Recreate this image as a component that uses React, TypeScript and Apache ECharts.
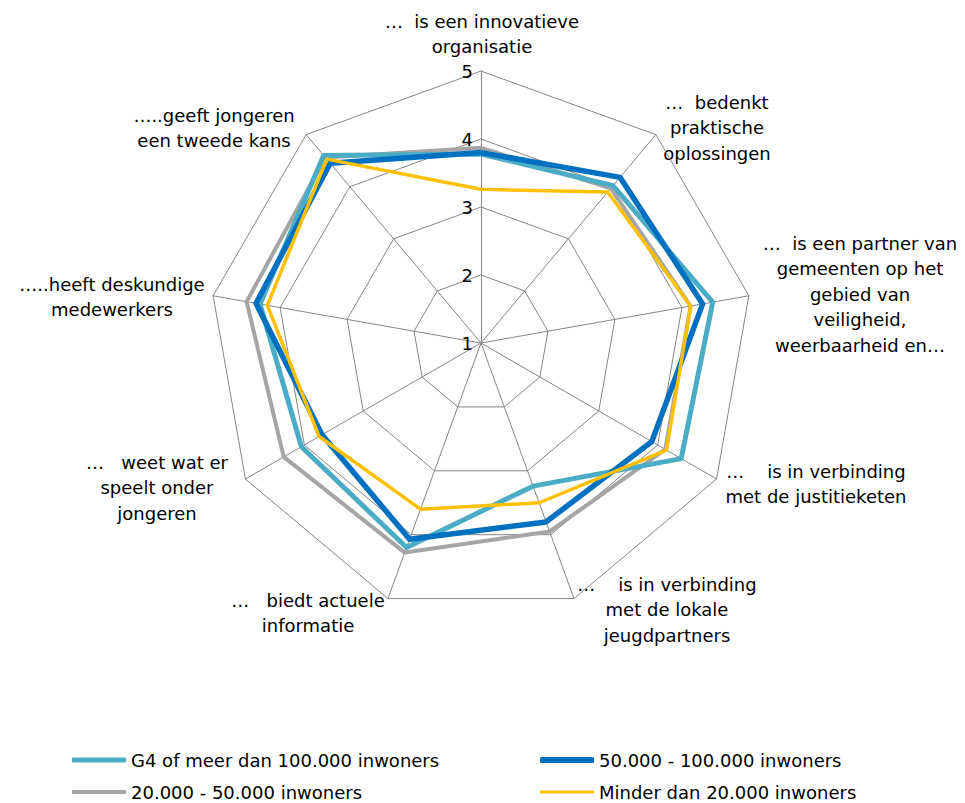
import React, { useEffect, useRef } from "react";
import * as echarts from "echarts";

// ---------- data (clockwise from the top, as in the reference) ----------
const indicatorNames: string[] = [
  "…  is een innovatieve\norganisatie",
  "…  bedenkt\npraktische\noplossingen",
  "…  is een partner van\ngemeenten op het\ngebied van\nveiligheid,\nweerbaarheid en…",
  "…    is in verbinding\nmet de justitieketen",
  "…    is in verbinding\nmet de lokale\njeugdpartners",
  "…   biedt actuele\ninformatie",
  "…   weet wat er\nspeelt onder\njongeren",
  "…..heeft deskundige\nmedewerkers",
  "…..geeft jongeren\neen tweede kans",
];
const scaleMin = 1;
const scaleMax = 5;

const nameG4 = "G4 of meer dan 100.000 inwoners";
const name50 = "50.000 - 100.000 inwoners";
const name20 = "20.000 - 50.000 inwoners";
const nameMinder = "Minder dan 20.000 inwoners";

const g4Values = [3.78, 4.02, 4.46, 4.4, 3.24, 4.2, 4.05, 4.3, 4.6];
const v50Values = [3.8, 4.18, 4.31, 3.9, 3.8, 4.07, 3.7, 4.36, 4.45];
const v20Values = [3.87, 3.97, 4.13, 4.13, 3.95, 4.28, 4.35, 4.5, 4.56];
const minderValues = [3.26, 3.9, 4.13, 4.15, 3.5, 3.6, 3.75, 4.19, 4.53];

// ECharts lays radar indicators out counter-clockwise: keep the first, reverse the rest
function ccw<T>(arr: T[]): T[] {
  return [arr[0], ...arr.slice(1).reverse()];
}

// ---------- layout (not data) ----------
const FONT = "DejaVu Sans";
const FS = 18;
const LINE_H = 25.5;
// centre x / first-line centre y of each indicator name block (clockwise order)
const nameAnchors: [number, number][] = [
  [482, 21],
  [717, 102],
  [860, 243],
  [816, 471],
  [667, 584],
  [308, 600],
  [157, 462],
  [112, 284],
  [214, 115],
];
// legend slots: [name, left, row centre y, icon thickness]
const legendSlots: [string, number, number, number][] = [
  [nameG4, 72, 760, 5],
  [name50, 540, 760, 6],
  [name20, 72, 792, 4],
  [nameMinder, 540, 792, 3],
];

export default function App() {
  const ref = useRef<HTMLDivElement>(null);
  useEffect(() => {
    if (!ref.current) return;
    const chart = echarts.init(ref.current, undefined, { renderer: "svg" });
    const gridColor = "#868686";
    const option: any = {
      animation: false,
      backgroundColor: "#ffffff",
      textStyle: { fontFamily: FONT },
      radar: {
        center: [481, 343],
        radius: 272,
        startAngle: 90,
        shape: "polygon",
        splitNumber: 4,
        axisName: { show: false },
        axisLine: { show: true, lineStyle: { color: gridColor, width: 1 } },
        splitLine: { show: true, lineStyle: { color: gridColor, width: 1 } },
        splitArea: { show: false },
        axisTick: { show: false },
        axisLabel: { show: false },
        indicator: ccw(indicatorNames).map((n, i) => ({
          name: n,
          min: scaleMin,
          max: scaleMax,
          ...(i === 0
            ? {
                axisLabel: {
                  show: true,
                  color: "#000",
                  fontSize: FS,
                  fontFamily: FONT,
                  margin: 8,
                },
              }
            : {}),
        })),
      },
      legend: legendSlots.map(([n, left, cy, h]) => ({
        data: [n],
        orient: "horizontal",
        left,
        top: cy - 9,
        padding: 0,
        itemWidth: 54,
        itemHeight: h,
        icon: "roundRect",
        selectedMode: false,
        textStyle: { color: "#000", fontSize: FS, fontFamily: FONT },
      })),
      graphic: indicatorNames.map((n, i) => ({
        type: "text",
        x: nameAnchors[i][0],
        y: nameAnchors[i][1] - LINE_H / 2,
        silent: true,
        style: {
          text: n,
          align: "center",
          verticalAlign: "top",
          fontSize: FS,
          fontFamily: FONT,
          lineHeight: LINE_H,
          fill: "#000",
        },
      })),
      series: [
        {
          type: "radar",
          symbol: "none",
          data: [
            {
              name: name20,
              value: ccw(v20Values),
              itemStyle: { color: "#A5A5A5" },
              lineStyle: { color: "#A5A5A5", width: 4, join: "round" },
            },
            {
              name: nameG4,
              value: ccw(g4Values),
              itemStyle: { color: "#4BACC6" },
              lineStyle: { color: "#4BACC6", width: 5, join: "round" },
            },
            {
              name: name50,
              value: ccw(v50Values),
              itemStyle: { color: "#0070C0" },
              lineStyle: { color: "#0070C0", width: 5.5, join: "round" },
            },
            {
              name: nameMinder,
              value: ccw(minderValues),
              itemStyle: { color: "#FFC000" },
              lineStyle: { color: "#FFC000", width: 3.5, join: "round" },
            },
          ],
        },
      ],
    };
    chart.setOption(option);
    return () => chart.dispose();
  }, []);
  return (
    <div
      ref={ref}
      style={{ position: "absolute", left: 0, top: 0, width: 965, height: 803 }}
    />
  );
}
